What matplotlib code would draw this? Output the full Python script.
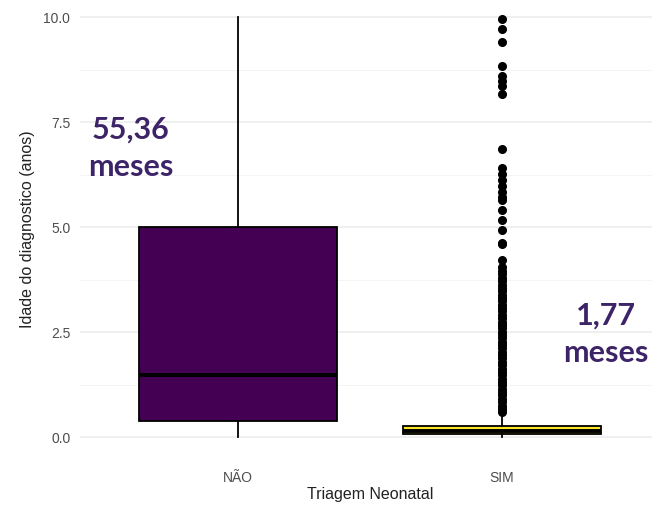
import numpy as np
import matplotlib
matplotlib.use("Agg")
import matplotlib.pyplot as plt

# -----------------------------
# Dados
# -----------------------------
categorias = ["NÃO", "SIM"]
q1 = [0.38, 0.07]
mediana = [1.48, 0.15]
q3 = [5.0, 0.26]
whisker_min = [0.0, 0.0]
whisker_max = [10.0, 0.50]
outliers_nao = []
outliers_sim = [9.95, 9.71, 9.41, 8.84, 8.60, 8.48, 8.36, 8.17, 6.86,
                6.40, 6.27, 6.12, 5.97, 5.84, 5.72, 5.64, 5.40, 5.17,
                4.93, 4.63, 4.60, 4.22, 4.05, 3.95, 3.87, 3.79, 3.71,
                3.63, 3.55, 3.47, 3.39, 3.31, 3.23, 3.15, 3.07, 2.99,
                2.91, 2.83, 2.75, 2.67, 2.59, 2.51, 2.43, 2.35, 2.27,
                2.19, 2.11, 2.03, 1.95, 1.87, 1.79, 1.71, 1.63, 1.55,
                1.47, 1.39, 1.31, 1.23, 1.15, 1.07, 0.99, 0.91, 0.83,
                0.75, 0.67, 0.60]
cores = ["#440154", "#FDE725"]
rotulos = ["55,36\nmeses", "1,77\nmeses"]

# -----------------------------
# Figura
# -----------------------------
fig = plt.figure(figsize=(6.52, 5.07), dpi=100)
ax = fig.add_axes([80 / 652, 49 / 507, 580 / 652, 458 / 507])

stats = []
for i, cat in enumerate(categorias):
    stats.append(dict(label=cat, q1=q1[i], med=mediana[i], q3=q3[i],
                      whislo=whisker_min[i], whishi=whisker_max[i],
                      fliers=[outliers_nao, outliers_sim][i]))

bp = ax.bxp(stats, positions=[1, 2], widths=0.75, patch_artist=True,
            showcaps=False,
            boxprops=dict(edgecolor="black", linewidth=1.3),
            medianprops=dict(color="black", linewidth=2.8),
            whiskerprops=dict(color="black", linewidth=1.3),
            flierprops=dict(marker="o", markerfacecolor="black",
                            markeredgecolor="black", markersize=5.5))
for patch, c in zip(bp["boxes"], cores):
    patch.set_facecolor(c)

ax.set_xlim(0.4, 2.6)
ax.set_ylim(-0.5, 10.405)
ax.set_yticks([0, 2.5, 5, 7.5, 10])
ax.set_yticklabels(["0.0", "2.5", "5.0", "7.5", "10.0"])
ax.set_yticks([1.25, 3.75, 6.25, 8.75], minor=True)
ax.set_xticks([1, 2])
ax.set_xticklabels(categorias)

ax.grid(axis="y", which="major", color="#EBEBEB", linewidth=1.1, zorder=0)
ax.grid(axis="y", which="minor", color="#F2F2F2", linewidth=0.6, zorder=0)
ax.set_axisbelow(True)
for s in ax.spines.values():
    s.set_visible(False)
ax.tick_params(axis="both", which="both", length=0, colors="#4D4D4D",
               labelsize=10)
ax.tick_params(axis="y", pad=7)
ax.tick_params(axis="x", pad=9)
for lab in ax.get_xticklabels() + ax.get_yticklabels():
    lab.set_family("Liberation Sans")

ax.set_ylabel("Idade do diagnostico (anos)", fontsize=11.5,
              family="Liberation Sans", color="#222222", labelpad=6)
ax.set_xlabel("Triagem Neonatal", fontsize=11.5, family="Liberation Sans",
              color="#222222", labelpad=2)

# anotações
ax.text(0.593, 6.88, rotulos[0], ha="center", va="center", fontsize=22,
        fontweight="bold", family="Lato", color="#3D2468", linespacing=1.4)
ax.text(2.396, 2.45, rotulos[1], ha="center", va="center", fontsize=22,
        fontweight="bold", family="Lato", color="#3D2468", linespacing=1.4)

fig.savefig("out.png", dpi=100)
